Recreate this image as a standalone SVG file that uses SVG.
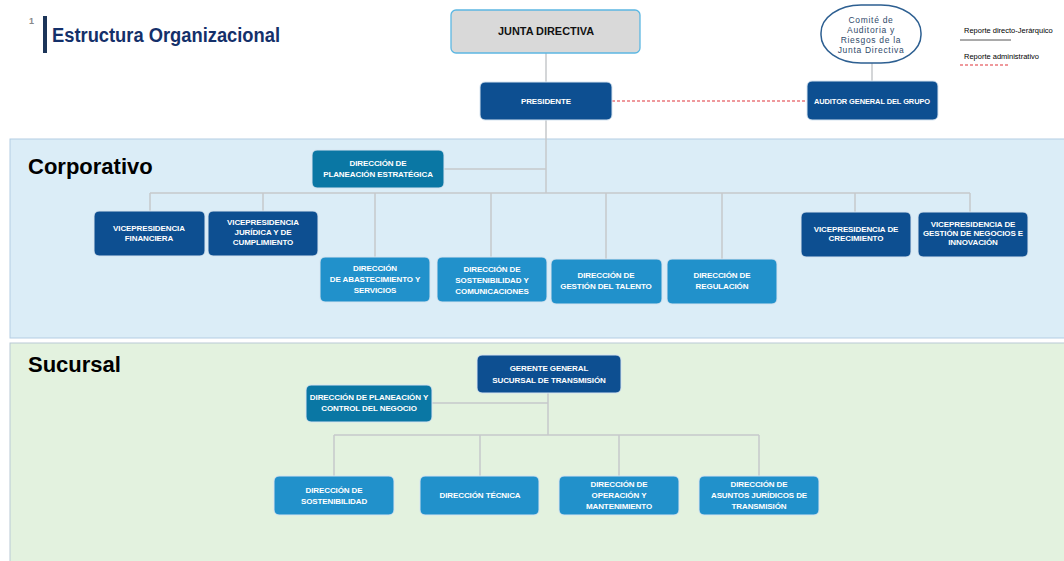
<svg xmlns="http://www.w3.org/2000/svg" width="1064" height="561" viewBox="0 0 1064 561">
<style>
.n{font-family:"Liberation Sans",Arial,sans-serif;font-weight:bold;fill:#fff;text-anchor:middle;font-size:8px;letter-spacing:-0.1px}
.dk{fill:#0d4f91;stroke:#d6e4f0;stroke-width:1}
.tl{fill:#0a77a4;stroke:#d6e4f0;stroke-width:1}
.lb{fill:#2191cb;stroke:#d6e4f0;stroke-width:1}
.c{stroke:#c6c9cb;stroke-width:1.5;fill:none}
.band{font-family:"Liberation Sans",Arial,sans-serif;font-weight:bold;font-size:22px;fill:#000}
.leg{font-family:"Liberation Sans",Arial,sans-serif;font-size:7.5px;fill:#000}
</style>
<rect width="1064" height="561" fill="#fff"/>
<g id="bands">
<rect x="10" y="139" width="1060" height="199" fill="#dbedf7" stroke="#b3cde3" stroke-width="1"/>
<rect x="10" y="343" width="1060" height="222" fill="#e3f2df" stroke="#b9c9d6" stroke-width="1"/>
<text class="band" x="28" y="174">Corporativo</text>
<text class="band" x="28" y="372">Sucursal</text>
</g>
<g id="title">
<text x="29" y="24" font-family="Liberation Sans,Arial,sans-serif" font-size="9" font-weight="bold" fill="#888">1</text>
<rect x="43" y="16" width="4" height="37" fill="#1c3559"/>
<text x="52" y="42" font-family="Liberation Sans,Arial,sans-serif" font-size="20" font-weight="bold" fill="#14306a" textLength="228" lengthAdjust="spacingAndGlyphs">Estructura Organizacional</text>
</g>
<g id="legend">
<text class="leg" x="964" y="33">Reporte directo-Jerárquico</text>
<line x1="960" y1="40" x2="1011" y2="40" stroke="#555" stroke-width="1"/>
<text class="leg" x="964" y="59">Reporte administrativo</text>
<line x1="960" y1="65" x2="1010" y2="65" stroke="#e0353b" stroke-width="1.2" stroke-dasharray="3,2"/>
</g>
<g id="connectors">
<line class="c" x1="546" y1="53" x2="546" y2="193"/>
<line class="c" x1="444" y1="169" x2="546" y2="169"/>
<line class="c" x1="150" y1="193" x2="970" y2="193"/>
<line class="c" x1="150" y1="193" x2="150" y2="211"/>
<line class="c" x1="263" y1="193" x2="263" y2="211"/>
<line class="c" x1="375" y1="193" x2="375" y2="257"/>
<line class="c" x1="491" y1="193" x2="491" y2="257"/>
<line class="c" x1="606" y1="193" x2="606" y2="259"/>
<line class="c" x1="722" y1="193" x2="722" y2="259"/>
<line class="c" x1="855" y1="193" x2="855" y2="212"/>
<line class="c" x1="970" y1="193" x2="970" y2="212"/>
<line class="c" x1="872" y1="63" x2="872" y2="81"/>
<line x1="612" y1="101" x2="807" y2="101" stroke="#e0353b" stroke-width="1.2" stroke-dasharray="3,2"/>
<line class="c" x1="548" y1="393" x2="548" y2="435"/>
<line class="c" x1="432" y1="403" x2="548" y2="403"/>
<line class="c" x1="334" y1="435" x2="759" y2="435"/>
<line class="c" x1="334" y1="435" x2="334" y2="476"/>
<line class="c" x1="480" y1="435" x2="480" y2="476"/>
<line class="c" x1="619" y1="435" x2="619" y2="476"/>
<line class="c" x1="759" y1="435" x2="759" y2="476"/>
</g>
<g id="junta">
<rect x="451" y="10" width="189" height="43" rx="5" fill="#d9d9d9" stroke="#5cb7e2" stroke-width="1.3"/>
<text x="546" y="35" font-family="Liberation Sans,Arial,sans-serif" font-weight="bold" font-size="11" fill="#111" text-anchor="middle" textLength="96" lengthAdjust="spacingAndGlyphs">JUNTA DIRECTIVA</text>
</g>
<g id="presidente">
<rect class="dk" x="480" y="82" width="132" height="38" rx="5"/>
<text class="n" x="546" y="104" font-size="9.5">PRESIDENTE</text>
</g>
<g id="comite">
<rect x="821" y="5" width="100" height="58" rx="40" ry="28" fill="#fff" stroke="#2d5f91" stroke-width="1.5"/>
<text x="871" y="23" font-family="Liberation Sans,Arial,sans-serif" font-size="8.5" fill="#2f4a6a" text-anchor="middle" letter-spacing="0.7"><tspan x="871">Comité de</tspan><tspan x="871" dy="10">Auditoria y</tspan><tspan x="871" dy="10">Riesgos de la</tspan><tspan x="871" dy="10">Junta Directiva</tspan></text>
</g>
<g id="auditor">
<rect class="dk" x="807" y="81" width="131" height="39" rx="5"/>
<text class="n" x="872" y="104" textLength="116" lengthAdjust="spacingAndGlyphs">AUDITOR GENERAL DEL GRUPO</text>
</g>
<g id="dir-planeacion">
<rect class="tl" x="312" y="150" width="132" height="38" rx="5"/>
<text class="n" x="378" y="166">DIRECCIÓN  DE<tspan x="378" dy="11">PLANEACIÓN ESTRATÉGICA</tspan></text>
</g>
<g id="vp-financiera">
<rect class="dk" x="94" y="211" width="111" height="45" rx="5"/>
<text class="n" x="149" y="231">VICEPRESIDENCIA<tspan x="149" dy="10">FINANCIERA</tspan></text>
</g>
<g id="vp-juridica">
<rect class="dk" x="208" y="211" width="110" height="45" rx="5"/>
<text class="n" x="263" y="225">VICEPRESIDENCIA<tspan x="263" dy="10">JURÍDICA Y DE</tspan><tspan x="263" dy="10">CUMPLIMIENTO</tspan></text>
</g>
<g id="dir-abastecimiento">
<rect class="lb" x="320" y="257" width="110" height="45" rx="5"/>
<text class="n" x="375" y="271">DIRECCIÓN<tspan x="375" dy="11">DE ABASTECIMIENTO Y</tspan><tspan x="375" dy="11">SERVICIOS</tspan></text>
</g>
<g id="dir-sostenibilidad-com">
<rect class="lb" x="437" y="257" width="110" height="45" rx="5"/>
<text class="n" x="492" y="272">DIRECCIÓN DE<tspan x="492" dy="11">SOSTENIBILIDAD Y</tspan><tspan x="492" dy="11">COMUNICACIONES</tspan></text>
</g>
<g id="dir-talento">
<rect class="lb" x="551" y="259" width="111" height="45" rx="5"/>
<text class="n" x="606" y="278">DIRECCIÓN DE<tspan x="606" dy="11">GESTIÓN DEL TALENTO</tspan></text>
</g>
<g id="dir-regulacion">
<rect class="lb" x="667" y="259" width="110" height="45" rx="5"/>
<text class="n" x="722" y="278">DIRECCIÓN DE<tspan x="722" dy="11">REGULACIÓN</tspan></text>
</g>
<g id="vp-crecimiento">
<rect class="dk" x="801" y="212" width="110" height="45" rx="5"/>
<text class="n" x="856" y="232">VICEPRESIDENCIA DE<tspan x="856" dy="9">CRECIMIENTO</tspan></text>
</g>
<g id="vp-negocios">
<rect class="dk" x="918" y="212" width="110" height="45" rx="5"/>
<text class="n" x="973" y="227">VICEPRESIDENCIA DE<tspan x="973" dy="9">GESTIÓN DE NEGOCIOS E</tspan><tspan x="973" dy="9">INNOVACIÓN</tspan></text>
</g>
<g id="gerente">
<rect class="dk" x="477" y="355" width="144" height="38" rx="5"/>
<text class="n" x="549" y="371" font-size="9.5">GERENTE GENERAL<tspan x="549" dy="12">SUCURSAL DE TRANSMISIÓN</tspan></text>
</g>
<g id="dir-planeacion-control">
<rect class="tl" x="306" y="385" width="126" height="37" rx="5"/>
<text class="n" x="369" y="400">DIRECCIÓN DE PLANEACIÓN Y<tspan x="369" dy="11">CONTROL DEL NEGOCIO</tspan></text>
</g>
<g id="dir-sostenibilidad">
<rect class="lb" x="274" y="476" width="120" height="39" rx="5"/>
<text class="n" x="334" y="493">DIRECCIÓN DE<tspan x="334" dy="11">SOSTENIBILIDAD</tspan></text>
</g>
<g id="dir-tecnica">
<rect class="lb" x="420" y="476" width="119" height="39" rx="5"/>
<text class="n" x="480" y="498">DIRECCIÓN TÉCNICA</text>
</g>
<g id="dir-operacion">
<rect class="lb" x="559" y="476" width="120" height="39" rx="5"/>
<text class="n" x="619" y="487">DIRECCIÓN DE<tspan x="619" dy="11">OPERACIÓN Y</tspan><tspan x="619" dy="11">MANTENIMIENTO</tspan></text>
</g>
<g id="dir-asuntos">
<rect class="lb" x="699" y="476" width="120" height="39" rx="5"/>
<text class="n" x="759" y="487">DIRECCIÓN DE<tspan x="759" dy="11">ASUNTOS JURÍDICOS DE</tspan><tspan x="759" dy="11">TRANSMISIÓN</tspan></text>
</g>
</svg>
